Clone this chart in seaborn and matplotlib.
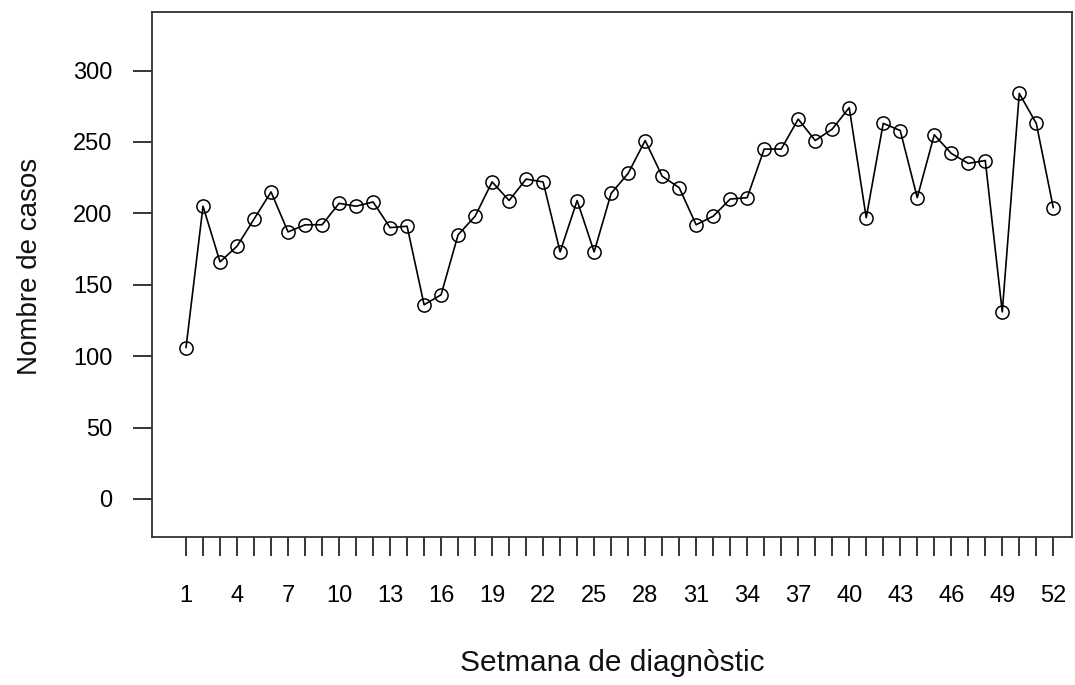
import matplotlib.pyplot as plt
import pandas as pd
import seaborn as sns

# casos per setmana de diagnòstic
weeks = list(range(1, 53))
cases = [106, 205, 166, 177, 196, 215, 187, 192, 192, 207,
         205, 208, 190, 191, 136, 143, 185, 198, 222, 209,
         224, 222, 173, 209, 173, 214, 228, 251, 226, 218,
         192, 198, 210, 211, 245, 245, 266, 251, 259, 274,
         197, 263, 258, 211, 255, 242, 235, 237, 131, 284,
         263, 204]
y_ticks = [0, 50, 100, 150, 200, 250, 300]

df = pd.DataFrame({'Setmana': weeks, 'Casos': cases})

sns.set_theme(style='ticks')
plt.rcParams['font.family'] = ['Liberation Sans', 'DejaVu Sans']

fig = plt.figure(figsize=(10.75, 6.85), dpi=100)
ax = fig.add_axes([0.1414, 0.2161, 0.8558, 0.7664])

sns.lineplot(
    data=df, x='Setmana', y='Casos', ax=ax, color='black', lw=1.2,
    marker='o', markersize=9.5, markerfacecolor='none',
    markeredgecolor='black', markeredgewidth=1.1,
)

ax.set_xlim(-1.0, 53.1)
ax.set_ylim(-26.6, 341)

ax.set_xticks(weeks)
ax.set_xticklabels([str(w) if (w - 1) % 3 == 0 else '' for w in weeks])
ax.set_yticks(y_ticks)
ax.set_yticklabels([str(v) for v in y_ticks])

ax.tick_params(axis='x', length=13.5, width=1.1, pad=21, labelsize=17,
               color='black', labelcolor='black')
ax.tick_params(axis='y', length=13.5, width=1.1, pad=15, labelsize=17,
               color='black', labelcolor='black')

for s in ax.spines.values():
    s.set_color('#333333')
    s.set_linewidth(1.3)

ax.set_xlabel('Setmana de diagnòstic', fontsize=21.5, labelpad=30,
              color='#111111')
ax.set_ylabel('Nombre de casos', fontsize=20, color='#111111')
ax.yaxis.set_label_coords(-0.119, 0.516)

fig.savefig('out.png', dpi=100)
